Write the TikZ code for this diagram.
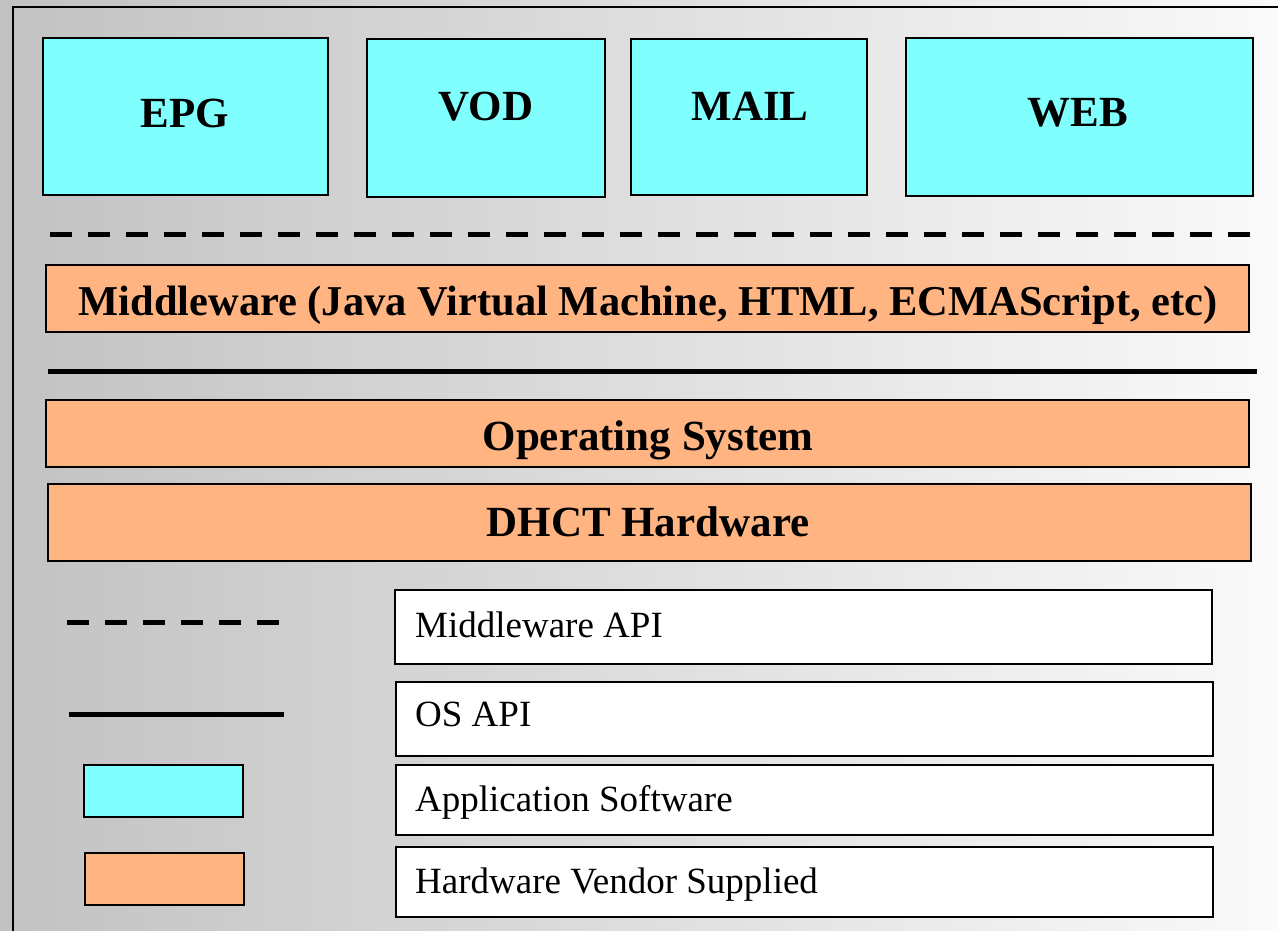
\documentclass[tikz,border=0pt]{standalone}
\usepackage{fontspec}
\setmainfont{Liberation Serif}
\definecolor{appcyan}{HTML}{80FFFF}
\definecolor{hworange}{HTML}{FFB482}
\definecolor{bggray}{HTML}{C2C2C2}
\definecolor{bgwhite}{HTML}{FAFAFA}
\begin{document}
\begin{tikzpicture}[x=1pt,y=-1pt,
  box/.style={draw=black,line width=2pt,inner sep=0pt,anchor=north west},
  appbox/.style={box,fill=appcyan},
  hwbox/.style={box,fill=hworange},
  keybox/.style={box,fill=white},
  title/.style={font=\bfseries\fontsize{43}{43}\selectfont,anchor=base,inner sep=0pt},
  midtitle/.style={font=\bfseries\fontsize{42.5}{43}\selectfont,anchor=base,inner sep=0pt},
  keytext/.style={font=\fontsize{37}{37}\selectfont,anchor=base west,inner sep=0pt},
  apiline/.style={line width=5pt,black},
  mwline/.style={apiline,dash pattern=on 22pt off 16pt}]
\useasboundingbox (0,0) rectangle (1278,930);
\shade[left color=bggray,right color=bgwhite] (0,0) rectangle (1278,930);
% outer frame
\draw[line width=2.5pt] (13,931) -- (13,7) -- (1279,7);

% application boxes
\node[appbox,minimum width=285pt,minimum height=157pt] (epg) at (42,37) {};
\node[appbox,minimum width=238pt,minimum height=158pt] (vod) at (366,38) {};
\node[appbox,minimum width=236pt,minimum height=156pt] (mail) at (630,38) {};
\node[appbox,minimum width=347pt,minimum height=158pt] (web) at (905,37) {};
\node[title] (epgt) at (185,127) {EPG};
\node[title] (vodt) at (486,120) {VOD};
\node[title] (mailt) at (750,120) {MAIL};
\node[title] (webt) at (1078,126) {WEB};

% middleware API line
\coordinate (mwa) at (50,234);
\coordinate (mwb) at (1252,234);
\draw[mwline] (mwa) -- (mwb);

% middleware
\node[hwbox,minimum width=1203pt,minimum height=67pt] (mw) at (45,264) {};
\node[midtitle] (mwt) at (648,315) {Middleware (Java Virtual Machine, HTML, ECMAScript, etc)};

% OS API line
\coordinate (osa) at (48,371);
\coordinate (osb) at (1257,371);
\draw[apiline] (osa) -- (osb);

% OS and hardware
\node[hwbox,minimum width=1203pt,minimum height=67pt] (os) at (45,399) {};
\node[title] (ost) at (648,450) {Operating System};
\node[hwbox,minimum width=1203pt,minimum height=77pt] (hw) at (47,483) {};
\node[title] (hwt) at (648,536) {DHCT Hardware};

% legend
\coordinate (k1a) at (67,622);
\coordinate (k1b) at (280,622);
\draw[mwline] (k1a) -- (k1b);
\coordinate (k2a) at (69,714);
\coordinate (k2b) at (284,714);
\draw[apiline] (k2a) -- (k2b);
\node[appbox,minimum width=159pt,minimum height=52pt] (k3) at (83,764) {};
\node[hwbox,minimum width=159pt,minimum height=52pt] (k4) at (84,852) {};

\node[keybox,minimum width=817pt,minimum height=74pt] (kb1) at (394,589) {};
\node[keybox,minimum width=817pt,minimum height=74pt] (kb2) at (395,681) {};
\node[keybox,minimum width=817pt,minimum height=70pt] (kb3) at (395,764) {};
\node[keybox,minimum width=817pt,minimum height=70pt] (kb4) at (395,846) {};
\node[keytext] (kt1) at (415,637) {Middleware API};
\node[keytext] (kt2) at (415,726) {OS API};
\node[keytext] (kt3) at (415,811) {Application Software};
\node[keytext] (kt4) at (415,893) {Hardware Vendor Supplied};
\end{tikzpicture}
\end{document}
